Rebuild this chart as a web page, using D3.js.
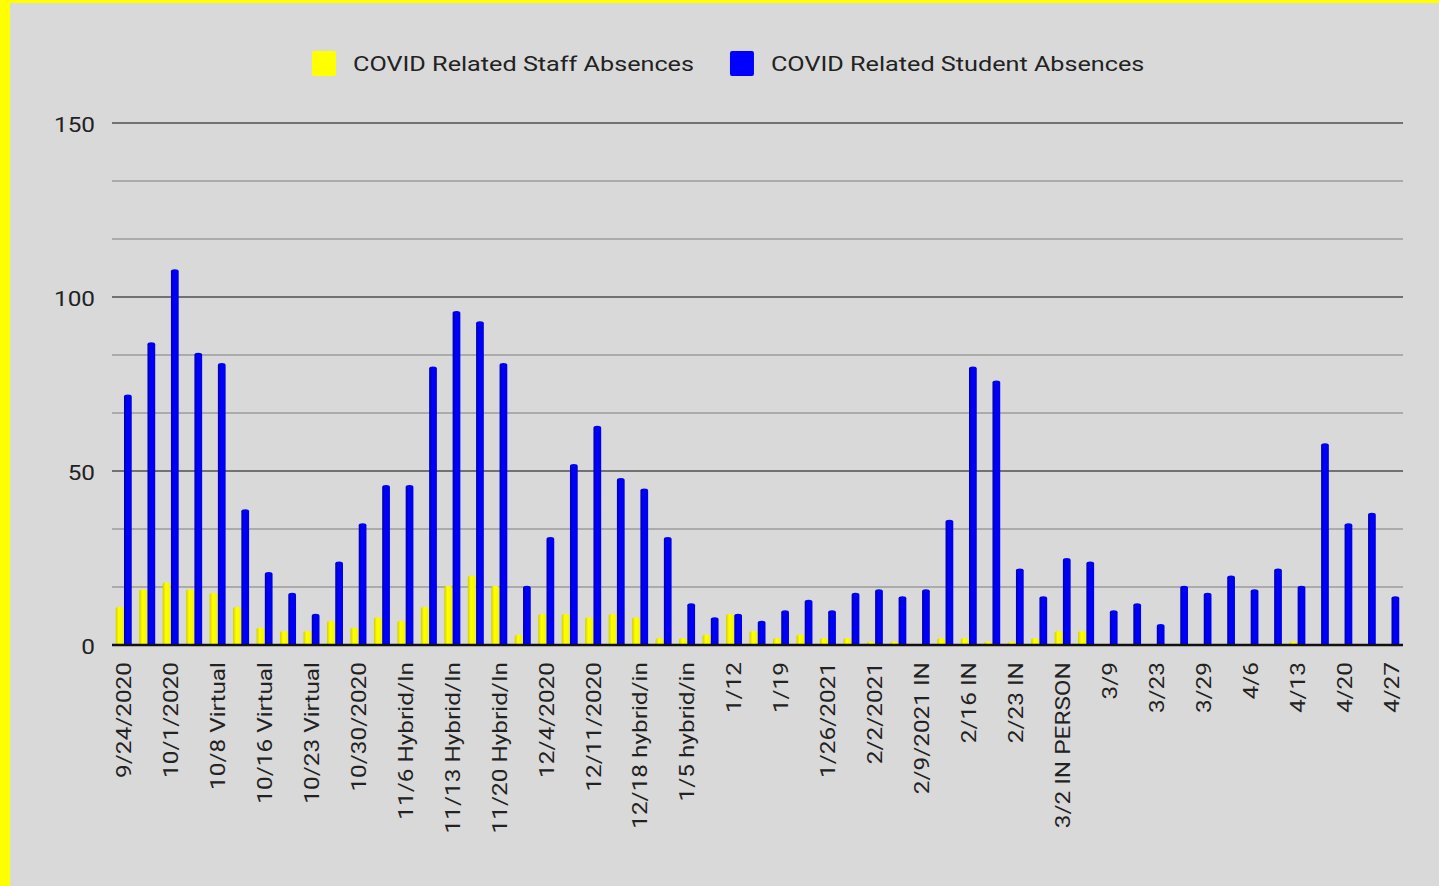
<!DOCTYPE html>
<html>
<head>
<meta charset="utf-8">
<script src="https://cdn.jsdelivr.net/npm/d3@7"></script>
<style>
  html, body { margin: 0; padding: 0; background: #d9d9d9; }
  svg { display: block; font-family: Roboto, "Noto Sans", sans-serif; }
</style>
</head>
<body>
<div id="chart"></div>
<script>
// categories (every other one gets a label on the axis)
var categories = [
  "9/24/2020", "9/28", "10/1/2020", "10/5", "10/8 Virtual", "10/12", "10/16 Virtual", "10/19",
  "10/23 Virtual", "10/26", "10/30/2020", "11/2", "11/6 Hybrid/In", "11/9", "11/13 Hybrid/In", "11/16",
  "11/20 Hybrid/In", "11/30", "12/4/2020", "12/7", "12/11/2020", "12/14", "12/18 hybrid/in", "1/4",
  "1/5 hybrid/in", "1/8", "1/12", "1/15", "1/19", "1/22", "1/26/2021", "1/29",
  "2/2/2021", "2/5", "2/9/2021 IN", "2/12", "2/16 IN", "2/19", "2/23 IN", "2/26",
  "3/2 IN PERSON", "3/5", "3/9", "3/16", "3/23", "3/26", "3/29", "4/2",
  "4/6", "4/9", "4/13", "4/16", "4/20", "4/23", "4/27"
];

var staffAbsences = [
  11, 16, 18, 16, 15, 11, 5, 4, 4, 7, 5, 8, 7, 11, 17, 20, 17, 3, 9,
  9, 8, 9, 8, 2, 2, 3, 9, 4, 2, 3, 2, 2, 1, 1, 0, 2, 2,
  1, 1, 2, 4, 4, 0, 0, 0, 0, 0, 0, 0, 0, 1, 0, 0, 0, 0
];

var studentAbsences = [
  72, 87, 108, 84, 81, 39, 21, 15, 9, 24, 35, 46, 46, 80, 96, 93, 81, 17,
  31, 52, 63, 48, 45, 31, 12, 8, 9, 7, 10, 13, 10, 15, 16, 14, 16, 36,
  80, 76, 22, 14, 25, 24, 10, 12, 6, 17, 15, 20, 16, 22, 17, 58, 35, 38, 14
];

var seriesNames = ["COVID Related Staff Absences", "COVID Related Student Absences"];
var yTicks = [0, 50, 100, 150];

(function() {
var width = 1439, height = 886;
var plotLeft = 112, plotRight = 1403, plotTop = 123, plotBottom = 645;
var stretch = 1.16; // text in the reference is a bit wider than Roboto
var legendStretch = 1.2;

var svg = d3.select("#chart").append("svg")
  .attr("width", width)
  .attr("height", height);

// gradients to get the rounded/3d look of the bars
var defs = svg.append("defs");
function grad(id, c0, c1, c2) {
  var g = defs.append("linearGradient").attr("id", id)
    .attr("x1", "0%").attr("x2", "100%").attr("y1", "0%").attr("y2", "0%");
  g.append("stop").attr("offset", "0%").attr("stop-color", c0);
  g.append("stop").attr("offset", "40%").attr("stop-color", c1);
  g.append("stop").attr("offset", "100%").attr("stop-color", c2);
}
grad("gYellow", "#d0d000", "#ffff00", "#f4f400");
grad("gBlue", "#0000a8", "#0000ff", "#0000e6");
var fills = ["url(#gYellow)", "url(#gBlue)"];
var swatch = ["#ffff00", "#0000ff"];

// background + yellow frame (top and left only)
svg.append("rect").attr("width", width).attr("height", height).attr("fill", "#d9d9d9");
svg.append("rect").attr("x", 0).attr("y", 0).attr("width", width).attr("height", 3).attr("fill", "#ffff00");
svg.append("rect").attr("x", 0).attr("y", 0).attr("width", 10).attr("height", height).attr("fill", "#ffff00");

var x = d3.scaleBand().domain(categories).range([plotLeft, plotRight]);
var x1 = d3.scaleBand().domain(seriesNames).range([-8, 8]).paddingInner(0.06);
var y = d3.scaleLinear().domain([0, 150]).range([plotBottom, plotTop]);

// grid lines: major every 50, minor every 50/3
var minor = d3.range(1, 9).map(function(i) { return i * 50 / 3; })
  .filter(function(v) { return Math.abs(v % 50) > 1; });
svg.append("g").selectAll("line").data(minor).enter().append("line")
  .attr("x1", plotLeft).attr("x2", plotRight)
  .attr("y1", function(d) { return y(d); }).attr("y2", function(d) { return y(d); })
  .attr("stroke", "#ababab").attr("stroke-width", 2);
svg.append("g").selectAll("line").data(yTicks.slice(1)).enter().append("line")
  .attr("x1", plotLeft).attr("x2", plotRight)
  .attr("y1", function(d) { return y(d); }).attr("y2", function(d) { return y(d); })
  .attr("stroke", "#727272").attr("stroke-width", 2);

// y axis labels
var yAxis = svg.append("g")
  .attr("transform", "translate(" + plotLeft + ",2)")
  .call(d3.axisLeft(y).tickValues(yTicks).tickSize(0).tickPadding(17));
yAxis.select(".domain").remove();
yAxis.selectAll("text")
  .attr("font-size", 21).attr("fill", "#222").attr("font-family", "Roboto, sans-serif")
  .attr("x", -17 / stretch)
  .attr("transform", "scale(" + stretch + ",1)");

// bars
var rows = categories.map(function(c, i) {
  return { cat: c, vals: [staffAbsences[i], studentAbsences[i]] };
});

function barPath(x0, w, v) {
  if (v <= 0) return "";
  var yt = y(v), r = 2;
  return "M" + x0 + "," + plotBottom +
    "V" + (yt + r) +
    "A" + (w / 2) + "," + r + " 0 0 1 " + (x0 + w) + "," + (yt + r) +
    "V" + plotBottom + "Z";
}

var groups = svg.append("g").selectAll("g").data(rows).enter().append("g")
  .attr("transform", function(d) { return "translate(" + (x(d.cat) + x.bandwidth() / 2) + ",0)"; });

groups.selectAll("path").data(function(d) { return d.vals; }).enter().append("path")
  .attr("d", function(v, i) { return barPath(x1(seriesNames[i]), x1.bandwidth(), v); })
  .attr("fill", function(v, i) { return fills[i]; });

// baseline
svg.append("line")
  .attr("x1", plotLeft).attr("x2", plotRight)
  .attr("y1", y(0)).attr("y2", y(0))
  .attr("stroke", "#111").attr("stroke-width", 2.5);

// x labels (every second category)
var xAxis = svg.append("g")
  .attr("transform", "translate(0," + (plotBottom + 17) + ")")
  .call(d3.axisBottom(x).tickSize(0).tickPadding(0)
    .tickValues(categories.filter(function(d, i) { return i % 2 === 0; })));
xAxis.select(".domain").remove();
xAxis.selectAll("text")
  .attr("font-size", 21)
  .attr("fill", "#222")
  .attr("font-family", "Roboto, sans-serif")
  .attr("transform", "rotate(-90) scale(" + stretch + ",1)")
  .attr("text-anchor", "end")
  .attr("x", 0).attr("y", 0)
  .attr("dy", "0.35em");

// legend
var legend = svg.append("g");
var lx = 312;
seriesNames.forEach(function(name, i) {
  legend.append("rect")
    .attr("x", lx).attr("y", 51).attr("width", 24).attr("height", 25).attr("rx", 2)
    .attr("fill", swatch[i]);
  var t = legend.append("text")
    .attr("x", (lx + 41) / legendStretch).attr("y", 71)
    .attr("transform", "scale(" + legendStretch + ",1)")
    .attr("font-size", 21).attr("fill", "#222")
    .text(name);
  lx = lx + 41 + t.node().getComputedTextLength() * legendStretch + 36;
});
})();
</script>
</body>
</html>
